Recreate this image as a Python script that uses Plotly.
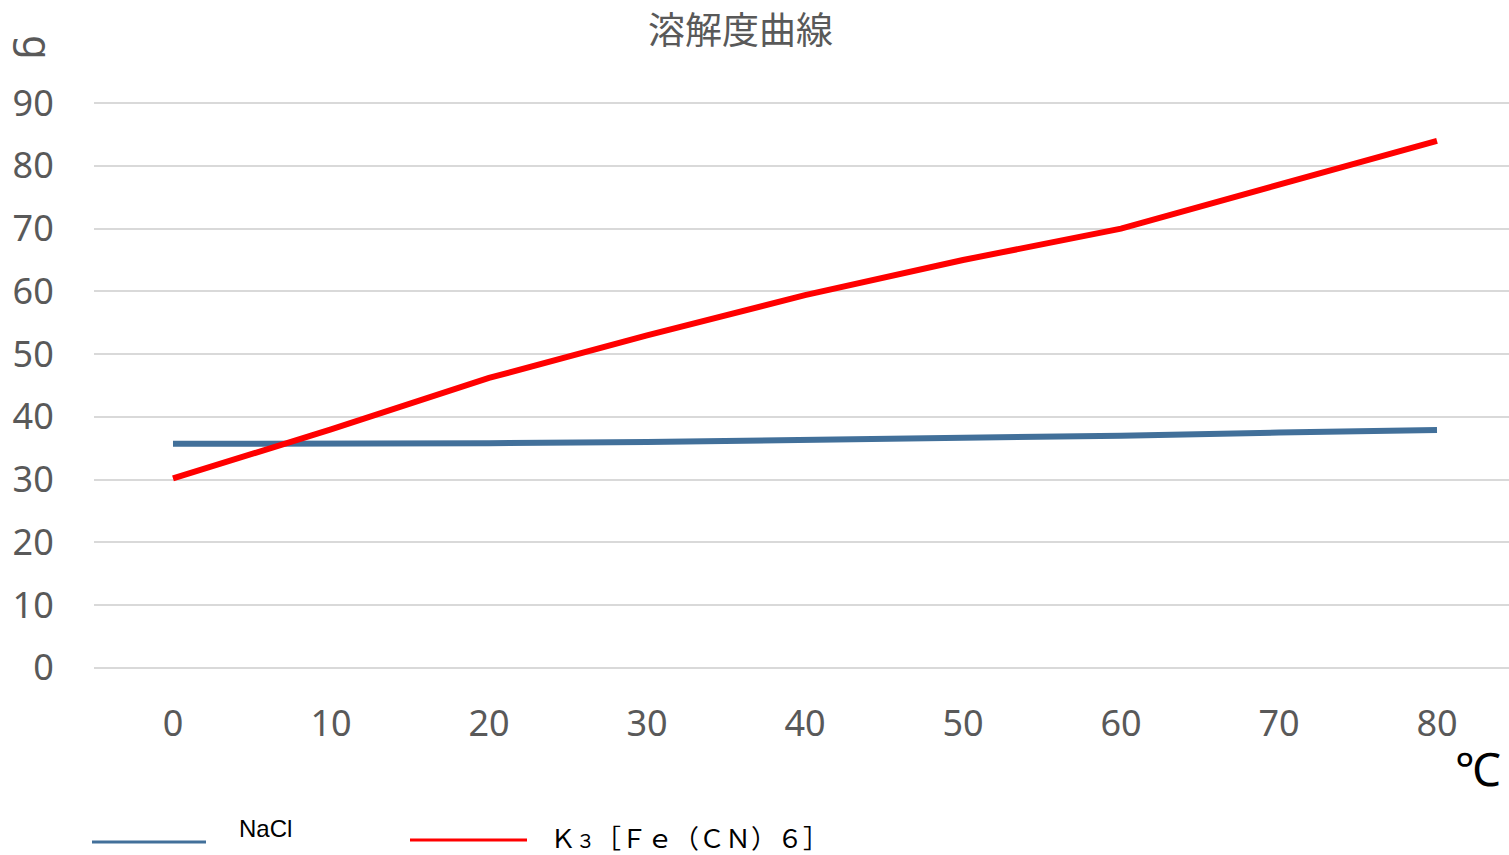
import plotly.graph_objects as go

# Data
temps = [0, 10, 20, 30, 40, 50, 60, 70, 80]
nacl = [35.7, 35.7, 35.8, 36.0, 36.3, 36.7, 37.0, 37.5, 37.9]
k3fe = [30.2, 38.0, 46.2, 53.0, 59.4, 65.0, 70.0, 77.0, 84.0]
series_names = ["NaCl", "Ｋ<span style=\"font-size:19px\">３</span>［Ｆｅ（ＣＮ）６］"]
x_ticks = [0, 10, 20, 30, 40, 50, 60, 70, 80]
y_ticks = [0, 10, 20, 30, 40, 50, 60, 70, 80, 90]
title_text = "溶解度曲線"
y_unit = "g"
x_unit = "℃"

W, H = 1509, 855
L, R, T, B = 94, 0, 100, 184
PW, PH = W - L - R, H - T - B

def px(x):
    return (x - L) / PW

def py(y):
    return (H - B - y) / PH

BLUE = "#42709a"
RED = "#ff0000"
GRAY = "#595959"

fig = go.Figure()
fig.add_trace(go.Scatter(x=temps, y=nacl, mode="lines", name="NaCl",
                         line=dict(color=BLUE, width=6)))
fig.add_trace(go.Scatter(x=temps, y=k3fe, mode="lines", name="K3[Fe(CN)6]",
                         line=dict(color=RED, width=6)))

fig.update_layout(
    width=W, height=H,
    margin=dict(l=L, r=R, t=T, b=B),
    paper_bgcolor="white", plot_bgcolor="white",
    showlegend=False,
    font=dict(family="Noto Sans, sans-serif", color=GRAY),
)
fig.update_xaxes(
    range=[-5, -5 + PW / 15.8], tickvals=x_ticks, ticktext=[str(v) for v in x_ticks],
    showgrid=False, zeroline=False, showline=False,
    ticks="outside", ticklen=21, tickcolor="rgba(0,0,0,0)",
    tickfont=dict(size=36, color=GRAY, family="Noto Sans, sans-serif"),
)
fig.update_yaxes(
    range=[-0.5, 90.5], tickvals=y_ticks, ticktext=[str(v) for v in y_ticks],
    showgrid=True, gridcolor="#d9d9d9", gridwidth=1.5,
    zeroline=False, showline=False,
    ticks="outside", ticklen=32, tickcolor="rgba(0,0,0,0)",
    tickfont=dict(size=36, color=GRAY, family="Noto Sans, sans-serif"),
)

ann = []
ann.append(dict(text=title_text, x=px(740), y=py(28), xref="paper", yref="paper",
                showarrow=False, xanchor="center", yanchor="middle",
                font=dict(size=37, color=GRAY, family="Noto Sans CJK JP")))
ann.append(dict(text=y_unit, x=px(39), y=py(47), xref="paper", yref="paper",
                showarrow=False, xanchor="center", yanchor="middle", textangle=90,
                font=dict(size=40, color=GRAY, family="Noto Sans, sans-serif")))
ann.append(dict(text=x_unit, x=px(1478), y=py(770), xref="paper", yref="paper",
                showarrow=False, xanchor="center", yanchor="middle",
                font=dict(size=46, color="black", family="Liberation Sans, Arial, sans-serif")))
ann.append(dict(text=series_names[0], x=px(265), y=py(828), xref="paper", yref="paper",
                showarrow=False, xanchor="center", yanchor="middle",
                font=dict(size=24, color="black", family="Liberation Sans Narrow, Arial Narrow, sans-serif")))
ann.append(dict(text=series_names[1], x=px(689), y=py(837), xref="paper", yref="paper",
                showarrow=False, xanchor="center", yanchor="middle", borderpad=0,
                font=dict(size=26, color="black", family="Noto Sans CJK JP")))
fig.update_layout(annotations=ann)

shapes = [
    dict(type="line", xref="paper", yref="paper", x0=px(92), x1=px(206), y0=py(842), y1=py(842),
         line=dict(color=BLUE, width=3)),
    dict(type="line", xref="paper", yref="paper", x0=px(410), x1=px(527), y0=py(840), y1=py(840),
         line=dict(color=RED, width=3)),
]
fig.update_layout(shapes=shapes)

fig.write_html("out.html", config={"displayModeBar": False},
               post_script="document.body.style.margin='0';document.body.style.overflow='hidden';")
